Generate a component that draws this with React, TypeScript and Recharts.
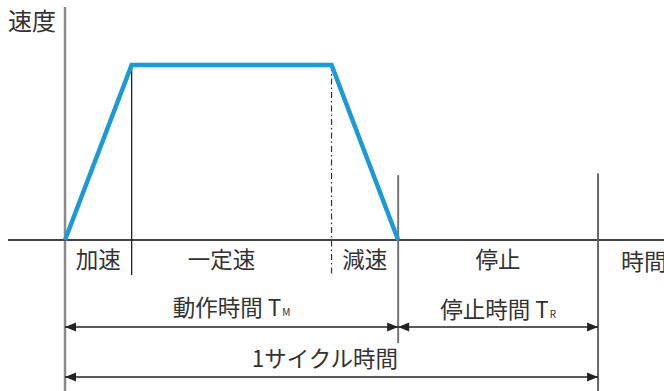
import { LineChart, Line, XAxis, YAxis, ReferenceLine, ReferenceDot } from "recharts"

// trapezoid speed profile (time in arbitrary units, speed normalised to 1)
const timePoints = [0, 1, 4, 5]
const speedValues = [0, 1, 1, 0]

const phaseLabels = ["加速", "一定速", "減速", "停止"]
const phaseDurations = [1, 3, 1, 3]

const spanLabels = ["動作時間 T", "停止時間 T", "1サイクル時間"]
const spanSubs = ["M", "R", ""]

const yLabel = "速度"
const xLabel = "時間"

const data = timePoints.map((t, i) => ({ t, v: speedValues[i] }))
const bounds = phaseDurations.reduce((acc, d) => [...acc, acc[acc.length - 1] + d], [0])

const X_DOMAIN = [-0.976, 8.99]
const Y_DOMAIN = [-0.863, 1.371]
const INK = "#333"
const FONT = '"Noto Sans CJK JP", "Noto Sans", sans-serif'

const textShape =
  (text: string, sub = "", anchor = "middle", size = 22.5) =>
  (p: any) => (
    <text
      x={p.cx}
      y={p.cy + size * 0.36}
      textAnchor={anchor}
      fontSize={size}
      fill={INK}
      fontFamily={FONT}
    >
      {text}
      {sub && (
        <tspan fontSize={10} dx={1}>
          {sub}
        </tspan>
      )}
    </text>
  )

const arrowShape = (p: any) => {
  const { x1, y1, x2 } = p
  const h = 11
  const w = 4.5
  return (
    <g>
      <line x1={x1} y1={y1} x2={x2} y2={y1} stroke="#222" strokeWidth={1.5} />
      <polygon points={`${x1},${y1} ${x1 + h},${y1 - w} ${x1 + h},${y1 + w}`} fill="#222" />
      <polygon points={`${x2},${y1} ${x2 - h},${y1 - w} ${x2 - h},${y1 + w}`} fill="#222" />
    </g>
  )
}

export default function App() {
  const [t0, t1, t2, t3, t4] = bounds
  const phaseX = [(t0 + t1) / 2, 2.35, (t2 + t3) / 2, (t3 + t4) / 2]
  const spans = [
    { from: t0, to: t3, lx: (t0 + t3) / 2, ly: -0.389, ay: -0.497 },
    { from: t3, to: t4, lx: (t3 + t4) / 2, ly: -0.4, ay: -0.497 },
    { from: t0, to: t4, lx: 3.9, ly: -0.68, ay: -0.783 },
  ]

  return (
    <div style={{ position: "absolute", left: 0, top: 0, background: "#fff" }}>
      <LineChart width={664} height={391} data={data} margin={{ top: 0, right: 0, bottom: 0, left: 0 }}>
        <XAxis dataKey="t" type="number" domain={X_DOMAIN} allowDataOverflow hide />
        <YAxis type="number" domain={Y_DOMAIN} allowDataOverflow hide />

        {/* axes */}
        <ReferenceLine
          segment={[{ x: 0, y: Y_DOMAIN[0] }, { x: 0, y: 1.331 }]}
          stroke="#8a8a8a"
          strokeWidth={2.5}
          ifOverflow="visible"
        />
        <ReferenceLine
          segment={[{ x: -0.856, y: 0 }, { x: X_DOMAIN[1], y: 0 }]}
          stroke="#444"
          strokeWidth={2}
          ifOverflow="visible"
        />

        {/* phase boundaries */}
        <ReferenceLine
          segment={[{ x: t1, y: 1 }, { x: t1, y: -0.2 }]}
          stroke="#222"
          strokeWidth={1.3}
          ifOverflow="visible"
        />
        <ReferenceLine
          segment={[{ x: t2, y: 1 }, { x: t2, y: -0.2 }]}
          stroke="#333"
          strokeWidth={1.2}
          strokeDasharray="6 3 1.5 3"
          ifOverflow="visible"
        />
        <ReferenceLine
          segment={[{ x: t3, y: 0.37 }, { x: t3, y: -0.59 }]}
          stroke="#777"
          strokeWidth={2}
          ifOverflow="visible"
        />
        <ReferenceLine
          segment={[{ x: t4, y: 0.38 }, { x: t4, y: Y_DOMAIN[0] }]}
          stroke="#666"
          strokeWidth={2}
          ifOverflow="visible"
        />

        {/* dimension arrows */}
        {spans.map((s, i) => (
          <ReferenceLine
            key={"a" + i}
            segment={[{ x: s.from, y: s.ay }, { x: s.to, y: s.ay }]}
            shape={arrowShape}
            ifOverflow="visible"
          />
        ))}

        {/* texts */}
        <ReferenceDot x={-0.856} y={1.251} r={0} ifOverflow="visible" shape={textShape(yLabel, "", "start", 24)} />
        <ReferenceDot x={8.345} y={-0.126} r={0} ifOverflow="visible" shape={textShape(xLabel, "", "start", 23)} />
        {phaseLabels.map((lab, i) => (
          <ReferenceDot key={"p" + i} x={phaseX[i]} y={-0.114} r={0} ifOverflow="visible" shape={textShape(lab)} />
        ))}
        {spans.map((s, i) => (
          <ReferenceDot
            key={"s" + i}
            x={s.lx}
            y={s.ly}
            r={0}
            ifOverflow="visible"
            shape={textShape(spanLabels[i], spanSubs[i])}
          />
        ))}

        <Line
          dataKey="v"
          type="linear"
          stroke="#1c9ad6"
          strokeWidth={4.5}
          strokeLinejoin="miter"
          dot={false}
          activeDot={false}
          isAnimationActive={false}
        />
      </LineChart>
    </div>
  )
}
